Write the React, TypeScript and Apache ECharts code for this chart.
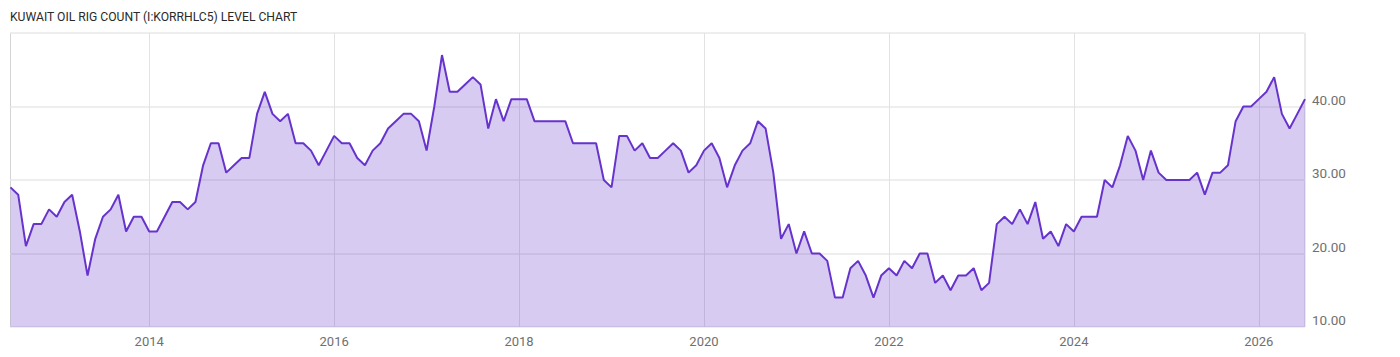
import React, { useEffect, useRef } from "react";
import * as echarts from "echarts";

const TITLE = "KUWAIT OIL RIG COUNT (I:KORRHLC5) LEVEL CHART";
const START_YEAR = 2012;
const START_MONTH = 7;

const v2012 = [29, 28, 21, 24, 24, 26];
const v2013 = [25, 27, 28, 23, 17, 22, 25, 26, 28, 23, 25, 25];
const v2014 = [23, 23, 25, 27, 27, 26, 27, 32, 35, 35, 31, 32];
const v2015 = [33, 33, 39, 42, 39, 38, 39, 35, 35, 34, 32, 34];
const v2016 = [36, 35, 35, 33, 32, 34, 35, 37, 38, 39, 39, 38];
const v2017 = [34, 40, 47, 42, 42, 43, 44, 43, 37, 41, 38, 41];
const v2018 = [41, 41, 38, 38, 38, 38, 38, 35, 35, 35, 35, 30];
const v2019 = [29, 36, 36, 34, 35, 33, 33, 34, 35, 34, 31, 32];
const v2020 = [34, 35, 33, 29, 32, 34, 35, 38, 37, 31, 22, 24];
const v2021 = [20, 23, 20, 20, 19, 14, 14, 18, 19, 17, 14, 17];
const v2022 = [18, 17, 19, 18, 20, 20, 16, 17, 15, 17, 17, 18];
const v2023 = [15, 16, 24, 25, 24, 26, 24, 27, 22, 23, 21, 24];
const v2024 = [23, 25, 25, 25, 30, 29, 32, 36, 34, 30, 34, 31];
const v2025 = [30, 30, 30, 30, 31, 28, 31, 31, 32, 38, 40, 40];
const v2026 = [41, 42, 44, 39, 37, 39, 41];

const values = [
  ...v2012, ...v2013, ...v2014, ...v2015, ...v2016, ...v2017, ...v2018,
  ...v2019, ...v2020, ...v2021, ...v2022, ...v2023, ...v2024, ...v2025, ...v2026,
];

const months: string[] = values.map((_, i) => {
  const m0 = START_MONTH - 1 + i;
  const y = START_YEAR + Math.floor(m0 / 12);
  const m = (m0 % 12) + 1;
  return `${y}-${String(m).padStart(2, "0")}`;
});

const Y_TICKS = [10, 20, 30, 40, 50];

const isLabelMonth = (v: string) => {
  const [y, m] = v.split("-").map(Number);
  return m === 1 && y % 2 === 0;
};

export default function App() {
  const ref = useRef<HTMLDivElement>(null);
  useEffect(() => {
    if (!ref.current) return;
    const chart = echarts.init(ref.current, undefined, { renderer: "svg" });
    chart.setOption({
      animation: false,
      backgroundColor: "#ffffff",
      textStyle: { fontFamily: "Roboto" },
      graphic: [
        {
          type: "text",
          x: 10,
          y: 9,
          scaleX: 0.9,
          style: {
            text: TITLE,
            fontFamily: "Roboto",
            fontSize: 13.5,
            fill: "#2a2a2a",
          },
        },
      ],
      grid: {
        left: 10.5,
        top: 33,
        right: 95,
        bottom: 30,
        show: true,
        borderColor: "#d4d4d4",
        borderWidth: 1,
        backgroundColor: "transparent",
      },
      xAxis: {
        type: "category",
        data: months,
        boundaryGap: false,
        axisLine: { show: false },
        axisTick: { show: false },
        axisLabel: {
          interval: (_i: number, v: string) => isLabelMonth(v),
          formatter: (v: string) => v.slice(0, 4),
          color: "#707070",
          fontSize: 13,
          margin: 8,
          fontFamily: "Roboto",
        },
        splitLine: {
          show: true,
          interval: (_i: number, v: string) => isLabelMonth(v),
          lineStyle: { color: "#e2e2e2", width: 1 },
        },
      },
      yAxis: {
        type: "value",
        position: "right",
        min: Y_TICKS[0],
        max: Y_TICKS[Y_TICKS.length - 1],
        interval: 10,
        axisLine: { show: false },
        axisTick: { show: false },
        axisLabel: {
          showMaxLabel: false,
          formatter: (v: number) => v.toFixed(2),
          color: "#707070",
          fontSize: 13.5,
          margin: 7,
          verticalAlign: "bottom",
          fontFamily: "Roboto",
        },
        splitLine: { show: true, lineStyle: { color: "#eeeeee", width: 2 } },
      },
      series: [
        {
          type: "line",
          data: values,
          showSymbol: false,
          symbol: "none",
          lineStyle: { color: "#6633cc", width: 2 },
          areaStyle: { color: "#6a35cc", opacity: 0.26 },
        },
      ],
    });
    return () => chart.dispose();
  }, []);
  return (
    <div
      ref={ref}
      style={{ position: "fixed", left: 0, top: 0, width: 1400, height: 357 }}
    />
  );
}
